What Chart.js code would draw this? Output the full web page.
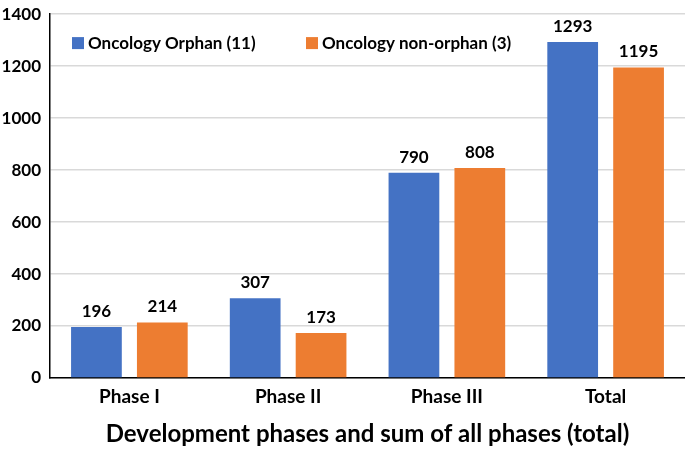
<!DOCTYPE html>
<html>
<head>
<meta charset="utf-8">
<script src="https://cdn.jsdelivr.net/npm/chart.js@4.4.0/dist/chart.umd.min.js"></script>
<style>
  html, body { margin:0; padding:0; background:#fff; }
  #wrap { width:685px; height:449px; }
</style>
</head>
<body>
<div id="wrap"><canvas id="chart"></canvas></div>
<script>
const phases = ["Phase I", "Phase II", "Phase III", "Total"];
const orphanLabel = "Oncology Orphan (11)";
const nonOrphanLabel = "Oncology non-orphan (3)";
const orphan = [196, 307, 790, 1293];
const nonOrphan = [214, 173, 808, 1195];
const xTitle = "Development phases and sum of all phases (total)";

const FONT = "Lato, 'Open Sans', sans-serif";

// value labels above each bar
const barLabels = {
  id: "barLabels",
  afterDatasetsDraw(chart){
    const ctx = chart.ctx;
    ctx.save();
    ctx.font = "bold 17px " + FONT;
    ctx.fillStyle = "#000";
    ctx.textAlign = "center";
    ctx.textBaseline = "bottom";
    chart.data.datasets.forEach((ds, i) => {
      chart.getDatasetMeta(i).data.forEach((bar, j) => {
        ctx.fillText(ds.data[j], bar.x, bar.y - 7);
      });
    });
    ctx.restore();
  }
};

// legend drawn inside the plot area
const innerLegend = {
  id: "innerLegend",
  afterDraw(chart){
    const ctx = chart.ctx;
    const a = chart.chartArea;
    const xs = [a.left + 22, a.left + 256];
    const y = a.top + 29;
    ctx.save();
    ctx.font = "bold 17px " + FONT;
    ctx.textBaseline = "middle";
    ctx.textAlign = "left";
    chart.data.datasets.forEach((ds, i) => {
      ctx.fillStyle = ds.backgroundColor;
      ctx.fillRect(xs[i], y - 6, 12, 12);
      ctx.fillStyle = "#000";
      ctx.fillText(ds.label, xs[i] + 16, y);
    });
    ctx.restore();
  }
};

new Chart(document.getElementById("chart"), {
  type: "bar",
  data: {
    labels: phases,
    datasets: [
      {label: orphanLabel, data: orphan, backgroundColor: "#4472C4", categoryPercentage: 0.83, barPercentage: 0.77},
      {label: nonOrphanLabel, data: nonOrphan, backgroundColor: "#ED7D31", categoryPercentage: 0.83, barPercentage: 0.77}
    ]
  },
  options: {
    responsive: true,
    maintainAspectRatio: false,
    animation: false,
    devicePixelRatio: 1,
    layout: {padding: {top: 0, right: 0, left: 0, bottom: 0}},
    plugins: {legend: {display: false}, tooltip: {enabled: false}},
    scales: {
      x: {
        grid: {display: false, drawTicks: false},
        border: {color: "#000", width: 1.5},
        ticks: {color: "#000", font: {family: FONT, size: 19, weight: "bold"}, padding: 7},
        title: {display: true, text: xTitle, color: "#000", font: {family: FONT, size: 24, weight: "bold"}, padding: {top: 6, bottom: 0}},
        afterFit(scale){ scale.height = 71; }
      },
      y: {
        min: 0, max: 1400,
        ticks: {stepSize: 200, color: "#000", font: {family: FONT, size: 17, weight: "bold", lineHeight: 0.6}, padding: 9,
          callback: v => String(v)},
        grid: {color: "#d9d9d9", lineWidth: 1.5, drawTicks: false},
        border: {color: "#000", width: 1.5},
        afterFit(scale){ scale.width = 50; }
      }
    }
  },
  plugins: [barLabels, innerLegend]
});
</script>
</body>
</html>
